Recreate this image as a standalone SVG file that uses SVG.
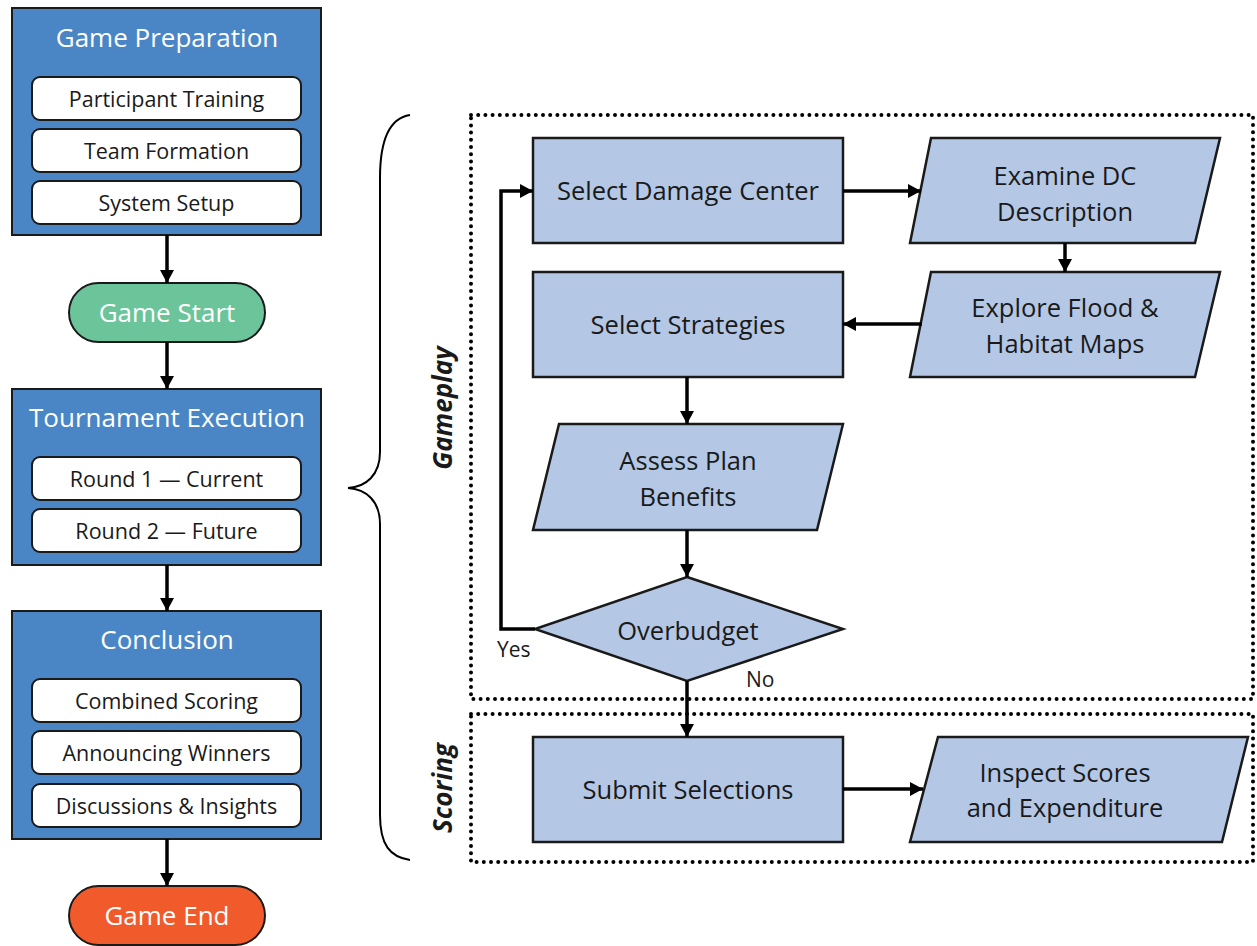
<svg xmlns="http://www.w3.org/2000/svg" width="1257" height="946" viewBox="0 0 1257 946">
<defs>
<style>
.phase{fill:#4a86c6;stroke:#1a1a1a;stroke-width:2}
.item{fill:#ffffff;stroke:#1a1a1a;stroke-width:2}
.node{fill:#b4c8e6;stroke:#1a1a1a;stroke-width:2.5}
.ttl{font-family:"Open Sans","Liberation Sans",sans-serif;font-size:26px;fill:#ffffff;text-anchor:middle}
.itm{font-family:"Open Sans","Liberation Sans",sans-serif;font-size:21.5px;fill:#1a1a1a;text-anchor:middle}
.ntx{font-family:"Open Sans","Liberation Sans",sans-serif;font-size:25.5px;fill:#1a1a1a;text-anchor:middle}
.lbl{font-family:"Open Sans","Liberation Sans",sans-serif;font-size:21px;fill:#1a1a1a}
.sec{font-family:"Open Sans","Liberation Sans",sans-serif;font-size:26px;font-weight:bold;font-style:italic;fill:#1a1a1a;text-anchor:middle}
.conn{fill:none;stroke:#000000;stroke-width:3.5}
.dot{fill:none;stroke:#000000;stroke-width:4;stroke-dasharray:0 7.2;stroke-linecap:round}
</style>
<marker id="ah" markerUnits="userSpaceOnUse" markerWidth="14" markerHeight="14" refX="13" refY="7" orient="auto">
<path d="M0,0 L13,7 L0,14 z" fill="#000000"/>
</marker>
</defs>
<rect width="1257" height="946" fill="#ffffff"/>

<g id="prep">
<rect class="phase" x="12" y="8" width="309" height="227"/>
<text class="ttl" x="167" y="47">Game Preparation</text>
<rect class="item" x="32" y="77" width="269" height="43" rx="8"/>
<text class="itm" x="166.5" y="106.5">Participant Training</text>
<rect class="item" x="32" y="129" width="269" height="43" rx="8"/>
<text class="itm" x="166.5" y="158.5">Team Formation</text>
<rect class="item" x="32" y="181" width="269" height="43" rx="8"/>
<text class="itm" x="166.5" y="211">System Setup</text>
</g>

<g id="start">
<rect x="69" y="283" width="196" height="59" rx="29.5" fill="#6cc49a" stroke="#1a1a1a" stroke-width="2"/>
<text class="ttl" x="167" y="321.5">Game Start</text>
</g>

<g id="tournament">
<rect class="phase" x="12" y="389" width="309" height="176"/>
<text class="ttl" x="167" y="427">Tournament Execution</text>
<rect class="item" x="32" y="457" width="269" height="43" rx="8"/>
<text class="itm" x="166.5" y="486.5">Round 1 — Current</text>
<rect class="item" x="32" y="509" width="269" height="43" rx="8"/>
<text class="itm" x="166.5" y="538.5">Round 2 — Future</text>
</g>

<g id="conclusion">
<rect class="phase" x="12" y="611" width="309" height="228"/>
<text class="ttl" x="167" y="649">Conclusion</text>
<rect class="item" x="32" y="679" width="269" height="43" rx="8"/>
<text class="itm" x="166.5" y="708.5">Combined Scoring</text>
<rect class="item" x="32" y="731" width="269" height="43" rx="8"/>
<text class="itm" x="166.5" y="760.5">Announcing Winners</text>
<rect class="item" x="32" y="784" width="269" height="43" rx="8"/>
<text class="itm" x="166.5" y="813.5">Discussions &amp; Insights</text>
</g>

<g id="end">
<rect x="69" y="886" width="196" height="59" rx="29.5" fill="#f15a2b" stroke="#1a1a1a" stroke-width="2"/>
<text class="ttl" x="167" y="924.5">Game End</text>
</g>

<g id="brace">
<path d="M410,115 C390,118 380,140 380,178 L380,452 C380,475 366,487 348,488 C366,489 380,501 380,524 L380,815 C380,845 390,857 410,860" fill="none" stroke="#000000" stroke-width="2"/>
</g>

<g id="gameplay-area">
<rect class="dot" x="471" y="115" width="782" height="584"/>
<text class="sec" transform="translate(452,408) rotate(-90)">Gameplay</text>
</g>
<g id="scoring-area">
<rect class="dot" x="471" y="714" width="782" height="148"/>
<text class="sec" transform="translate(452,788) rotate(-90)">Scoring</text>
</g>

<g id="select-dc">
<rect class="node" x="533" y="138" width="310" height="105"/>
<text class="ntx" x="688" y="200">Select Damage Center</text>
</g>
<g id="examine">
<polygon class="node" points="931,138 1220,138 1195,243 910,243"/>
<text class="ntx" x="1065" y="185">Examine DC</text>
<text class="ntx" x="1065" y="221">Description</text>
</g>
<g id="explore">
<polygon class="node" points="931,272 1220,272 1195,377 910,377"/>
<text class="ntx" x="1065" y="317">Explore Flood &amp;</text>
<text class="ntx" x="1065" y="353">Habitat Maps</text>
</g>
<g id="select-strat">
<rect class="node" x="533" y="272" width="310" height="105"/>
<text class="ntx" x="688" y="334">Select Strategies</text>
</g>
<g id="assess">
<polygon class="node" points="559,424 843,424 817,530 533,530"/>
<text class="ntx" x="688" y="470">Assess Plan</text>
<text class="ntx" x="688" y="506">Benefits</text>
</g>
<g id="overbudget">
<polygon class="node" points="687,577 843,629 687,681 535,629"/>
<text class="ntx" x="688" y="640">Overbudget</text>
</g>
<g id="submit">
<rect class="node" x="533" y="737" width="310" height="105"/>
<text class="ntx" x="688" y="799">Submit Selections</text>
</g>
<g id="inspect">
<polygon class="node" points="938,737 1248,737 1222,842 910,842"/>
<text class="ntx" x="1065" y="782">Inspect Scores</text>
<text class="ntx" x="1065" y="817">and Expenditure</text>
</g>

<g id="connectors">
<line class="conn" x1="167" y1="235" x2="167" y2="283" marker-end="url(#ah)"/>
<line class="conn" x1="167" y1="342" x2="167" y2="389" marker-end="url(#ah)"/>
<line class="conn" x1="167" y1="565" x2="167" y2="611" marker-end="url(#ah)"/>
<line class="conn" x1="167" y1="839" x2="167" y2="886" marker-end="url(#ah)"/>
<line class="conn" x1="843" y1="191" x2="921" y2="191" marker-end="url(#ah)"/>
<line class="conn" x1="1065" y1="243" x2="1065" y2="272" marker-end="url(#ah)"/>
<line class="conn" x1="922" y1="324" x2="843" y2="324" marker-end="url(#ah)"/>
<line class="conn" x1="687" y1="377" x2="687" y2="424" marker-end="url(#ah)"/>
<line class="conn" x1="687" y1="530" x2="687" y2="577" marker-end="url(#ah)"/>
<polyline class="conn" points="535,629 501,629 501,191 533,191" marker-end="url(#ah)"/>
<line class="conn" x1="687" y1="681" x2="687" y2="737" marker-end="url(#ah)"/>
<line class="conn" x1="843" y1="789" x2="923" y2="789" marker-end="url(#ah)"/>
<text class="lbl" x="497" y="657">Yes</text>
<text class="lbl" x="746" y="687">No</text>
</g>
</svg>
